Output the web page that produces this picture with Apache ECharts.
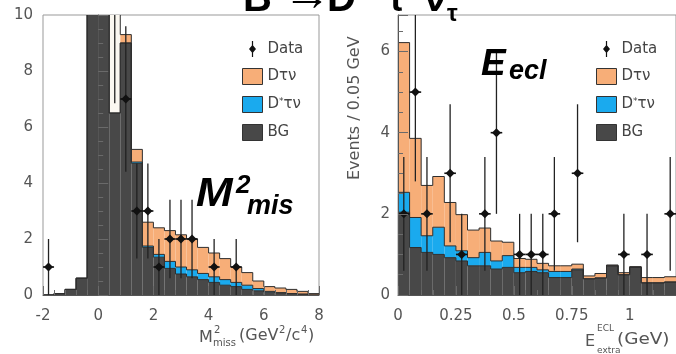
<!DOCTYPE html>
<html>
<head>
<meta charset="utf-8">
<script src="https://cdn.jsdelivr.net/npm/echarts@6/dist/echarts.min.js"></script>
<style>
html, body { margin: 0; padding: 0; background: #ffffff; }
#chart { width: 676px; height: 354px; }
</style>
</head>
<body>
<div id="chart"></div>
<script>
// ---- Missing-mass-squared histogram (bins of 0.4 GeV^2/c^4) ----
const mmBinWidth = 0.4;
const mmCenters = [-1.8, -1.4, -1.0, -0.6, -0.2, 0.2, 0.6, 1.0, 1.4, 1.8, 2.2, 2.6, 3.0,
                   3.4, 3.8, 4.2, 4.6, 5.0, 5.4, 5.8, 6.2, 6.6, 7.0, 7.4, 7.8];
const mmBG    = [0, 0.05, 0.2, 0.6, 14, 14, 6.5, 9.0, 4.7, 1.7, 1.35, 0.95, 0.75,
                 0.65, 0.55, 0.45, 0.35, 0.3, 0.2, 0.15, 0.1, 0.08, 0.05, 0.03, 0];
const mmDstar = [0, 0, 0, 0, 0, 0, 0, 0, 0.05, 0.05, 0.1, 0.25, 0.25,
                 0.25, 0.22, 0.2, 0.2, 0.15, 0.15, 0.08, 0.03, 0, 0, 0, 0];
const mmDtau  = [0, 0, 0, 0, 0, 0, 8, 0.3, 0.45, 0.85, 0.95, 1.1, 1.15,
                 1.1, 0.93, 0.85, 0.75, 0.55, 0.45, 0.27, 0.17, 0.17, 0.15, 0.1, 0.05];
const mmDataX   = [-1.8, 0.6, 1.0, 1.4, 1.8, 2.2, 2.6, 3.0, 3.4, 4.2, 5.0];
const mmDataY   = [1, 10.2, 7, 3, 3, 1, 2, 2, 2, 1, 1];
const mmDataErr = [1, 3.35, 2.6, 1.7, 1.7, 1, 1.4, 1.4, 1.4, 1, 1];

// ---- Extra calorimeter energy histogram (bins of 0.05 GeV) ----
const eBinWidth = 0.05;
const eCenters = [0.025, 0.075, 0.125, 0.175, 0.225, 0.275, 0.325, 0.375, 0.425, 0.475, 0.525, 0.575,
                  0.625, 0.675, 0.725, 0.775, 0.825, 0.875, 0.925, 0.975, 1.025, 1.075, 1.125, 1.175];
const eBG    = [2.04, 1.17, 1.05, 1.0, 0.92, 0.84, 0.72, 0.72, 0.64, 0.68, 0.55, 0.58,
                0.55, 0.43, 0.43, 0.62, 0.4, 0.42, 0.72, 0.5, 0.68, 0.3, 0.3, 0.32];
const eDstar = [0.49, 0.74, 0.41, 0.67, 0.29, 0.25, 0.2, 0.33, 0.2, 0.29, 0.13, 0.1,
                0.07, 0.15, 0.15, 0.02, 0, 0, 0, 0, 0, 0, 0, 0];
const eDtau  = [3.69, 1.95, 1.24, 1.25, 1.07, 0.89, 0.68, 0.6, 0.49, 0.33, 0.22, 0.2,
                0.16, 0.14, 0.14, 0.12, 0.07, 0.11, 0.02, 0.05, 0.02, 0.13, 0.13, 0.13];
const eDataX   = [0.025, 0.075, 0.125, 0.225, 0.275, 0.375, 0.425, 0.525, 0.575, 0.625, 0.675, 0.775, 0.975, 1.075, 1.175];
const eDataY   = [2, 5, 2, 3, 1, 2, 4, 1, 1, 1, 2, 3, 1, 1, 2];
const eDataErr = [1.4, 2.2, 1.4, 1.7, 1, 1.4, 2, 1, 1, 1, 1.4, 1.7, 1, 1, 1.4];

// axis ranges and tick spacing
const mmAxis = { min: -2, max: 8, step: 2 };
const mmYAxis = { min: 0, max: 10, step: 2 };
const eAxis = { min: 0, max: 1.2, step: 0.25 };
const eYAxis = { min: 0, max: 6.9, step: 2 };

const COLORS = { Dtau: '#f7ae78', Dstar: '#1aaaee', BG: '#484848', clipped: '#fbf8f1', edge: '#2e2e2e' };
const FONT = '"Liberation Sans", Arial, sans-serif';
const WIDE = '"DejaVu Sans", Verdana, sans-serif';
const NAME_D = 'D\u03c4\u03bd';
const NAME_DS = 'D*\u03c4\u03bd';

// Build stacked bin items: [xLeft, xRight, lower, upper, upperOfPreviousBin]
function stackItems(centers, width, layers, k) {
  return centers.map((c, i) => {
    let lo = 0;
    for (let j = 0; j < k; j++) lo += layers[j][i];
    const up = lo + layers[k][i];
    let prev = 0;
    if (i > 0) for (let j = 0; j <= k; j++) prev += layers[j][i - 1];
    return [c - width / 2, c + width / 2, lo, up, prev];
  });
}

function histRender(fill, yMax, clippedFill) {
  return function (params, api) {
    const xl = api.value(0), xr = api.value(1), lo = api.value(2), up = api.value(3), prev = api.value(4);
    const a = api.coord([xl, lo]);
    const b = api.coord([xr, up]);
    const p = api.coord([xl, prev]);
    const children = [];
    if (up > lo) {
      children.push({
        type: 'rect', z2: 0,
        shape: { x: a[0], y: b[1], width: b[0] - a[0], height: a[1] - b[1] },
        style: { fill: (clippedFill && up > yMax) ? clippedFill : fill }
      });
    }
    children.push({
      type: 'polyline', z2: 5,
      shape: { points: [[a[0], p[1]], [a[0], b[1]], [b[0], b[1]]] },
      style: { stroke: COLORS.edge, lineWidth: 1, fill: null }
    });
    return { type: 'group', children: children };
  };
}

function dataRender(binWidth) {
  return function (params, api) {
    const x = api.value(0), y = api.value(1), e = api.value(2);
    const c = api.coord([x, y]);
    const top = api.coord([x, y + e]);
    const bot = api.coord([x, Math.max(0, y - e)]);
    const l = api.coord([x - binWidth / 2, y]);
    const r = api.coord([x + binWidth / 2, y]);
    return {
      type: 'group',
      children: [
        { type: 'line', shape: { x1: c[0], y1: top[1], x2: c[0], y2: bot[1] }, style: { stroke: '#222', lineWidth: 1.3 } },
        { type: 'line', shape: { x1: l[0], y1: c[1], x2: r[0], y2: c[1] }, style: { stroke: '#111', lineWidth: 1.6 } },
        { type: 'polygon', shape: { points: [[c[0] - 4.5, c[1]], [c[0], c[1] - 4.5], [c[0] + 4.5, c[1]], [c[0], c[1] + 4.5]] }, style: { fill: '#111' } }
      ]
    };
  };
}

function histSeries(name, idx, centers, width, layers, k, fill, yMax, clippedFill) {
  return {
    type: 'custom', name: name, xAxisIndex: idx, yAxisIndex: idx, clip: true, z: 2,
    itemStyle: { color: fill },
    renderItem: histRender(fill, yMax, clippedFill),
    encode: { x: [0, 1], y: [2, 3] },
    data: stackItems(centers, width, layers, k)
  };
}

function dataSeries(idx, xs, ys, errs, width) {
  return {
    type: 'custom', name: 'Data', xAxisIndex: idx, yAxisIndex: idx, clip: true, z: 4,
    itemStyle: { color: '#111' },
    renderItem: dataRender(width),
    encode: { x: 0, y: 1 },
    data: xs.map((x, i) => [x, ys[i], errs[i]])
  };
}

function xAxisCfg(idx, r) {
  return {
    gridIndex: idx, type: 'value', min: r.min, max: r.max, interval: r.step, z: 5,
    axisLine: { lineStyle: { color: '#555', width: 1 } },
    axisTick: { inside: true, length: 9, lineStyle: { color: '#6a6a6a' } },
    minorTick: { show: true, splitNumber: 5, length: 5, lineStyle: { color: '#6a6a6a' } },
    axisLabel: { fontSize: 15, color: '#555', margin: 14, fontFamily: WIDE, showMaxLabel: idx === 0 },
    splitLine: { show: false }
  };
}

function yAxisCfg(idx, r) {
  return {
    gridIndex: idx, type: 'value', min: r.min, max: r.max, interval: r.step, z: 5,
    axisLine: { lineStyle: { color: '#555', width: 1 } },
    axisTick: { inside: true, length: 10, lineStyle: { color: '#6a6a6a' } },
    minorTick: { show: true, splitNumber: 4, length: 5, lineStyle: { color: '#6a6a6a' } },
    axisLabel: { fontSize: 15, color: '#555', margin: idx === 0 ? 10 : 8, fontFamily: WIDE, showMaxLabel: idx === 0 },
    splitLine: { show: false }
  };
}

const dataIcon = 'path://M9.4,0 L10.6,0 L10.6,4.5 L13.5,8 L10.6,11.5 L10.6,16 L9.4,16 L9.4,11.5 L6.5,8 L9.4,4.5 Z';

function legendCfg(left) {
  return {
    orient: 'vertical', left: left, top: 36, itemWidth: 20, itemHeight: 16, itemGap: 11,
    selectedMode: false,
    data: [
      { name: 'Data', icon: dataIcon, itemStyle: { borderWidth: 0 } },
      { name: NAME_D, icon: 'rect', itemStyle: { borderColor: '#333', borderWidth: 1 } },
      { name: NAME_DS, icon: 'rect', itemStyle: { borderColor: '#333', borderWidth: 1 } },
      { name: 'BG', icon: 'rect', itemStyle: { borderColor: '#333', borderWidth: 1 } }
    ],
    formatter: function (name) {
      return name === NAME_DS ? '{n|D}{s|*}{n|\u03c4\u03bd}' : '{n|' + name + '}';
    },
    textStyle: {
      fontFamily: WIDE, fontSize: 15, color: '#444',
      rich: {
        n: { fontFamily: WIDE, fontSize: 15, color: '#444' },
        s: { fontFamily: WIDE, fontSize: 9, color: '#444', verticalAlign: 'top' }
      }
    }
  };
}

function txt(x, y, text, size, opts) {
  return {
    type: 'text', x: x, y: y, z: 20,
    style: Object.assign({
      text: text, fontSize: size, fontFamily: WIDE, fill: '#555',
      align: 'left', verticalAlign: 'top'
    }, opts || {})
  };
}
const boldIt = { fontWeight: 'bold', fontStyle: 'italic', fill: '#000', fontFamily: FONT };
const bold = { fontWeight: 'bold', fill: '#000', fontFamily: FONT };

const chart = echarts.init(document.getElementById('chart'), null, { renderer: 'canvas' });
chart.setOption({
  animation: false,
  backgroundColor: '#ffffff',
  grid: [
    { left: 43, top: 15, width: 276, height: 280, show: true, borderColor: '#999', borderWidth: 1 },
    { left: 398, top: 15, width: 278, height: 280, show: true, borderColor: '#999', borderWidth: 1 }
  ],
  xAxis: [xAxisCfg(0, mmAxis), xAxisCfg(1, eAxis)],
  yAxis: [yAxisCfg(0, mmYAxis), yAxisCfg(1, eYAxis)],
  legend: [legendCfg(237), legendCfg(591)],
  series: [
    histSeries('BG', 0, mmCenters, mmBinWidth, [mmBG, mmDstar, mmDtau], 0, COLORS.BG, mmYAxis.max),
    histSeries(NAME_DS, 0, mmCenters, mmBinWidth, [mmBG, mmDstar, mmDtau], 1, COLORS.Dstar, mmYAxis.max),
    histSeries(NAME_D, 0, mmCenters, mmBinWidth, [mmBG, mmDstar, mmDtau], 2, COLORS.Dtau, mmYAxis.max, COLORS.clipped),
    dataSeries(0, mmDataX, mmDataY, mmDataErr, mmBinWidth),
    histSeries('BG', 1, eCenters, eBinWidth, [eBG, eDstar, eDtau], 0, COLORS.BG, eYAxis.max),
    histSeries(NAME_DS, 1, eCenters, eBinWidth, [eBG, eDstar, eDtau], 1, COLORS.Dstar, eYAxis.max),
    histSeries(NAME_D, 1, eCenters, eBinWidth, [eBG, eDstar, eDtau], 2, COLORS.Dtau, eYAxis.max, COLORS.clipped),
    dataSeries(1, eDataX, eDataY, eDataErr, eBinWidth)
  ],
  graphic: [
    // decay title along the top edge
    txt(243, -20, 'B', 40, bold),
    txt(283, -27, '\u2192', 48, bold),
    txt(327, -20, 'D', 40, bold),
    txt(388, -17, '\u03c4', 36, bold),
    txt(424, -20, '\u03bd', 40, bold),
    txt(447, 2, '\u03c4', 24, bold),
    // panel annotations
    Object.assign(txt(196, 175, 'M', 40, boldIt), { scaleX: 1.1 }),
    txt(236, 173, '2', 26, boldIt),
    txt(247, 193, 'mis', 27, boldIt),
    txt(481, 46, 'E', 37, boldIt),
    txt(509, 58, 'ecl', 27, boldIt),
    // axis titles
    txt(199, 330, 'M', 16),
    txt(214, 325, '2', 10),
    txt(213, 338, 'miss', 10),
    txt(239, 328, '(GeV', 16),
    txt(279, 325, '2', 10),
    txt(286, 328, '/c', 16),
    txt(301, 325, '4', 10),
    txt(308, 328, ')', 16),
    txt(585, 334, 'E', 16),
    txt(597, 324, 'ECL', 9),
    txt(597, 346, 'extra', 9),
    Object.assign(txt(617, 332, '(GeV)', 16), { scaleX: 1.15 }),
    {
      type: 'text', x: 355, y: 180, rotation: Math.PI / 2, z: 20,
      style: { text: 'Events / 0.05 GeV', fontSize: 16, fontFamily: WIDE, fill: '#555', align: 'left', verticalAlign: 'middle' }
    }
  ]
});
</script>
</body>
</html>
